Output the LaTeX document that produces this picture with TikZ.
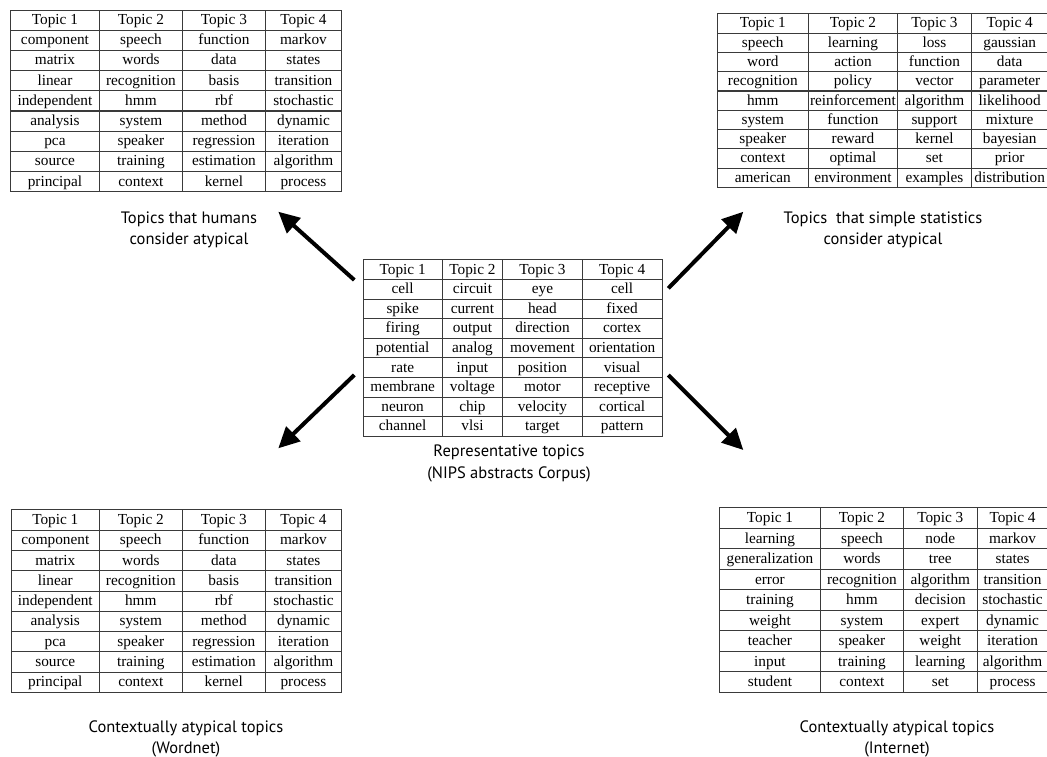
\documentclass[tikz,border=0pt]{standalone}
\usepackage{fontspec}
\setmainfont{Liberation Serif}
\newfontfamily\capfont{PT Sans}
\usetikzlibrary{matrix,arrows.meta}

\definecolor{rule}{HTML}{3A3A3A}

\tikzset{
  topics/.style={matrix of nodes, anchor=north west, inner sep=0pt, outer sep=0pt,
    column sep=-0.9pt, row sep=-0.9pt,
    nodes={draw=rule, line width=0.9pt, inner sep=0pt, outer sep=0pt, anchor=center,
      minimum height=#1pt, text height=11pt, text depth=2pt,
      font=\fontsize{15.3}{16}\selectfont}},
  cols/.style n args={4}{
    column 1/.style={nodes={minimum width=#1pt}},
    column 2/.style={nodes={minimum width=#2pt}},
    column 3/.style={nodes={minimum width=#3pt}},
    column 4/.style={nodes={minimum width=#4pt}}},
  caption/.style={align=center, text=black, font=\capfont\fontsize{16.5}{21.5}\selectfont},
  bigarrow/.style={line width=4pt, -{Triangle[length=21pt,width=20pt]}}
}

\begin{document}
\begin{tikzpicture}[x=1pt,y=-1pt]
\useasboundingbox (0,0) rectangle (1047,757);
\fill[white] (0,0) rectangle (1047,757);

% human-judged atypical topics
\matrix (tl) [topics=20.2, cols={89}{83}{83}{76}] at (10,9.5) {
Topic 1 & Topic 2 & Topic 3 & Topic 4 \\
component & speech & function & markov \\
matrix & words & data & states \\
linear & recognition & basis & transition \\
independent & hmm & rbf & stochastic \\
analysis & system & method & dynamic \\
pca & speaker & regression & iteration \\
source & training & estimation & algorithm \\
principal & context & kernel & process \\
};

% statistically atypical topics
\matrix (tr) [topics=19.3, cols={91.3}{89}{74}{76.5}] at (716.7,13.3) {
Topic 1 & Topic 2 & Topic 3 & Topic 4 \\
speech & learning & loss & gaussian \\
word & action & function & data \\
recognition & policy & vector & parameter \\
hmm & reinforcement & algorithm & likelihood \\
system & function & support & mixture \\
speaker & reward & kernel & bayesian \\
context & optimal & set & prior \\
american & environment & examples & distribution \\
};

% representative topics
\matrix (ctr) [topics=19.6, cols={79}{60.6}{79.4}{80}] at (362.7,259.3) {
Topic 1 & Topic 2 & Topic 3 & Topic 4 \\
cell & circuit & eye & cell \\
spike & current & head & fixed \\
firing & output & direction & cortex \\
potential & analog & movement & orientation \\
rate & input & position & visual \\
membrane & voltage & motor & receptive \\
neuron & chip & velocity & cortical \\
channel & vlsi & target & pattern \\
};

% contextually atypical topics, Wordnet
\matrix (bl) [topics=20.3, cols={88.3}{82.7}{83.3}{76}] at (10.7,509.3) {
Topic 1 & Topic 2 & Topic 3 & Topic 4 \\
component & speech & function & markov \\
matrix & words & data & states \\
linear & recognition & basis & transition \\
independent & hmm & rbf & stochastic \\
analysis & system & method & dynamic \\
pca & speaker & regression & iteration \\
source & training & estimation & algorithm \\
principal & context & kernel & process \\
};

% contextually atypical topics, Internet
\matrix (br) [topics=20.5, cols={101}{83}{73.7}{70.8}] at (719,507.3) {
Topic 1 & Topic 2 & Topic 3 & Topic 4 \\
learning & speech & node & markov \\
generalization & words & tree & states \\
error & recognition & algorithm & transition \\
training & hmm & decision & stochastic \\
weight & system & expert & dynamic \\
teacher & speaker & weight & iteration \\
input & training & learning & algorithm \\
student & context & set & process \\
};

% captions
\node[caption] (captl) at (189,230) {Topics that humans\\consider atypical};
\node[caption] (captr) at (883,230) {Topics~ that simple statistics\\consider atypical};
\node[caption] (capc) at (509,463.5) {Representative topics\\(NIPS abstracts Corpus)};
\node[caption] (capbl) at (186,739) {Contextually atypical topics\\(Wordnet)};
\node[caption] (capbr) at (897,739) {Contextually atypical topics\\(Internet)};

% arrow ends
\coordinate (tailtl) at (354.3,280);
\coordinate (headtl) at (278.3,211.7);
\coordinate (tailbl) at (354.3,375);
\coordinate (headbl) at (278.3,448.3);
\coordinate (tailtr) at (668.3,288.3);
\coordinate (headtr) at (743.3,211.7);
\coordinate (tailbr) at (668.3,375);
\coordinate (headbr) at (743.3,450);

\draw[bigarrow] (tailtl) -- (headtl);
\draw[bigarrow] (tailbl) -- (headbl);
\draw[bigarrow] (tailtr) -- (headtr);
\draw[bigarrow] (tailbr) -- (headbr);
\end{tikzpicture}
\end{document}
